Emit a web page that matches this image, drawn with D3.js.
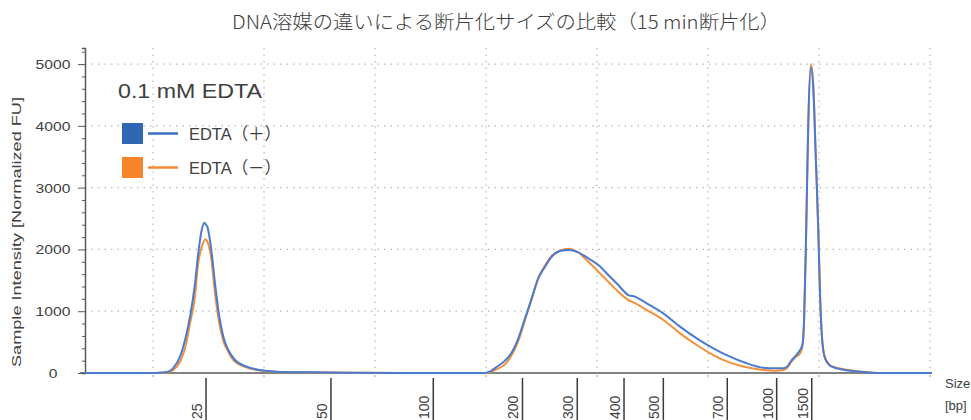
<!DOCTYPE html>
<html>
<head>
<meta charset="utf-8">
<script src="https://cdn.jsdelivr.net/npm/d3@7"></script>
<style>
  body { margin: 0; background: #fff; }
  svg text { font-family: "Liberation Sans", Arial, sans-serif; fill: #404040; }
</style>
</head>
<body>
<div id="plot_area"></div>
<script>
// chart size
const w = 971;
const h = 420;
const margin = {left: 85, right: 39, top: 48, bottom: 47};

// migration position (relative units, 0-100 across the plot)
const migration = [0, 7.7, 8.85, 9.68, 10.39, 11.22, 11.81, 12.40, 12.99, 13.34,
  13.78, 14.08, 14.23, 14.44, 14.96, 15.35, 15.86, 16.33, 16.92, 17.71,
  19.09, 20.66, 22.67, 25.38, 28.93, 32.47, 37.19, 47.23, 47.82, 48.41,
  49.59, 50.38, 51.16, 51.95, 52.74, 53.52, 54.31, 55.10, 56.08, 57.06,
  58.24, 59.42, 60.60, 61.78, 62.96, 64.14, 64.94, 66.32, 68.28, 70.25,
  72.22, 74.18, 76.15, 78.12, 80.08, 81.46, 82.44, 82.88, 83.44, 83.83,
  84.42, 84.69, 84.89, 85.09, 85.24, 85.40, 85.71, 85.99, 86.27, 86.58,
  86.78, 87.05, 87.37, 88.16, 89.73, 91.50, 92.92, 93.86, 100];

// EDTA (+)
const edtaPlus = [0, 0, 5, 15, 76, 264, 534, 911, 1451, 1900,
  2314, 2432, 2410, 2368, 1937, 1451, 911, 587, 372, 210,
  102, 48, 21, 12, 8, 3, 0, 0, 25, 80,
  200, 330, 560, 885, 1208, 1532, 1720, 1882, 1974, 1990,
  1953, 1856, 1748, 1586, 1424, 1262, 1235, 1128, 966, 750,
  560, 400, 264, 157, 86, 76, 76, 100, 210, 264,
  372, 453, 830, 1910, 2990, 4066, 4950, 4590, 3528, 2286,
  1262, 506, 238, 102, 48, 20, 5, 0, 0];

// EDTA (-)
const edtaMinus = [0, 0, 3, 8, 45, 183, 400, 804, 1250, 1750,
  2044, 2140, 2163, 2130, 1800, 1290, 800, 520, 340, 180,
  90, 40, 18, 12, 8, 3, 0, 0, 10, 50,
  140, 290, 520, 860, 1200, 1540, 1740, 1900, 1980, 2010,
  1950, 1800, 1640, 1477, 1316, 1181, 1130, 1019, 858, 642,
  453, 291, 167, 92, 50, 37, 48, 80, 190, 250,
  318, 420, 800, 1900, 3000, 4100, 5000, 4650, 3550, 2300,
  1280, 520, 250, 110, 55, 25, 5, 0, 0];

// ladder sizes and where they sit on the migration axis
const ladderBp = [25, 50, 100, 200, 300, 400, 500, 700, 1000, 1500];
const ladderPos = [14.29, 29.04, 41.12, 51.65, 58.12, 63.64, 68.28, 75.83, 81.66, 85.80];

const yTicks = [0, 1000, 2000, 3000, 4000, 5000];
const seriesNames = ['EDTA（＋）', 'EDTA（－）'];
const colors = ['#2f67b3', '#f5842a'];
const lineColors = ['#4a7bd0', '#f39039'];

const xScale = d3.scaleLinear()
                .domain([0, 100])
                .range([margin.left, w - margin.right]);

const yScale = d3.scaleLinear()
                .domain([0, 5260])
                .range([h - margin.bottom, margin.top]);

const svg = d3.select('#plot_area')
          .append('svg')
          .attr('width', w)
          .attr('height', h);

// title
svg.append('text')
  .attr('x', 506)
  .attr('y', 29)
  .attr('text-anchor', 'middle')
  .attr('textLength', 548)
  .attr('lengthAdjust', 'spacingAndGlyphs')
  .style('font-family', '"Noto Sans CJK JP", sans-serif')
  .style('font-weight', 300)
  .style('font-size', '19px')
  .text('DNA溶媒の違いによる断片化サイズの比較（15 min断片化）');

// dotted grid
const gridX = d3.range(8.03, 100.5, 13.105);
svg.append('g')
  .selectAll('line')
  .data(gridX)
  .join('line')
  .attr('x1', d => xScale(d))
  .attr('x2', d => xScale(d))
  .attr('y1', margin.top)
  .attr('y2', h - margin.bottom)
  .attr('stroke', '#b8b8b8')
  .attr('stroke-width', 1.2)
  .attr('stroke-dasharray', '1.5,5');

svg.append('g')
  .selectAll('line')
  .data(yTicks.slice(1))
  .join('line')
  .attr('x1', margin.left)
  .attr('x2', w - margin.right)
  .attr('y1', d => yScale(d))
  .attr('y2', d => yScale(d))
  .attr('stroke', '#b8b8b8')
  .attr('stroke-width', 1.2)
  .attr('stroke-dasharray', '1.5,5');

// little marks under x axis at grid positions
svg.append('g')
  .selectAll('line')
  .data(gridX)
  .join('line')
  .attr('x1', d => xScale(d))
  .attr('x2', d => xScale(d))
  .attr('y1', h - margin.bottom + 2)
  .attr('y2', h - margin.bottom + 4)
  .attr('stroke', '#999');

// y axis
const yAxis = svg.append('g')
  .attr('transform', 'translate(' + margin.left + ',0)')
  .call(d3.axisLeft(yScale).tickValues(d3.range(0, 5201, 200)).tickSize(3).tickFormat(''));
yAxis.select('.domain').attr('stroke', '#595959').attr('stroke-width', 1.5);
yAxis.selectAll('.tick line').attr('stroke', '#595959');
yAxis.selectAll('.tick').filter(d => d % 1000 === 0).select('line').attr('x2', -7);

svg.append('g')
  .selectAll('text')
  .data(yTicks)
  .join('text')
  .attr('x', 53)
  .attr('y', d => yScale(d) + 5)
  .attr('text-anchor', 'middle')
  .attr('textLength', d => String(d).length * 8.7)
  .attr('lengthAdjust', 'spacingAndGlyphs')
  .style('font-size', '13px')
  .text(d => d);

svg.append('text')
  .attr('transform', 'translate(21,' + 232 + ') rotate(-90)')
  .attr('text-anchor', 'middle')
  .attr('textLength', 270)
  .attr('lengthAdjust', 'spacingAndGlyphs')
  .style('font-size', '13px')
  .text('Sample Intensity [Normalized FU]');

// x axis line
svg.append('line')
  .attr('x1', margin.left - 5)
  .attr('x2', w - margin.right)
  .attr('y1', yScale(0))
  .attr('y2', yScale(0))
  .attr('stroke', '#595959')
  .attr('stroke-width', 1.5);

// ladder ticks and labels
const ladder = svg.append('g');
ladder.selectAll('line')
  .data(ladderPos)
  .join('line')
  .attr('x1', d => xScale(d))
  .attr('x2', d => xScale(d))
  .attr('y1', 378)
  .attr('y2', h)
  .attr('stroke', '#3a3a3a')
  .attr('stroke-width', 1.5);
ladder.selectAll('text')
  .data(ladderBp)
  .join('text')
  .attr('transform', (d, i) => 'translate(' + (xScale(ladderPos[i]) - 4) + ',419) rotate(-90)')
  .attr('text-anchor', 'start')
  .style('font-size', '14px')
  .text(d => d);

svg.append('text').attr('x', 945).attr('y', 388).style('font-size', '13px').text('Size');
svg.append('text').attr('x', 945).attr('y', 410).style('font-size', '13px').text('[bp]');

// curves
const line = d3.line()
  .x((d, i) => xScale(migration[i]))
  .y(d => yScale(d))
  .curve(d3.curveMonotoneX);

[edtaMinus, edtaPlus].forEach(function (s, k) {
  svg.append('path')
    .datum(s)
    .attr('fill', 'none')
    .attr('stroke', k === 0 ? lineColors[1] : lineColors[0])
    .attr('stroke-width', 2)
    .attr('stroke-linejoin', 'round')
    .attr('d', line);
});

// legend
svg.append('text')
  .attr('x', 118)
  .attr('y', 98)
  .attr('textLength', 144)
  .attr('lengthAdjust', 'spacingAndGlyphs')
  .style('font-size', '20px')
  .text('0.1 mM EDTA');

const leg = svg.append('g');
seriesNames.forEach(function (name, i) {
  const y0 = 123 + i * 34;
  leg.append('rect')
    .attr('x', 122).attr('y', y0)
    .attr('width', 21).attr('height', 21)
    .attr('fill', colors[i]);
  leg.append('line')
    .attr('x1', 148).attr('x2', 178)
    .attr('y1', y0 + 10.5).attr('y2', y0 + 10.5)
    .attr('stroke', i === 0 ? '#3a6fc0' : '#f58a34')
    .attr('stroke-width', 2.5);
  leg.append('text')
    .attr('x', 189).attr('y', y0 + 17)
    .attr('textLength', 92)
    .attr('lengthAdjust', 'spacingAndGlyphs')
    .style('font-family', '"Liberation Sans", "Noto Sans CJK JP", sans-serif')
    .style('font-size', '17px')
    .text(name);
});
</script>
</body>
</html>
